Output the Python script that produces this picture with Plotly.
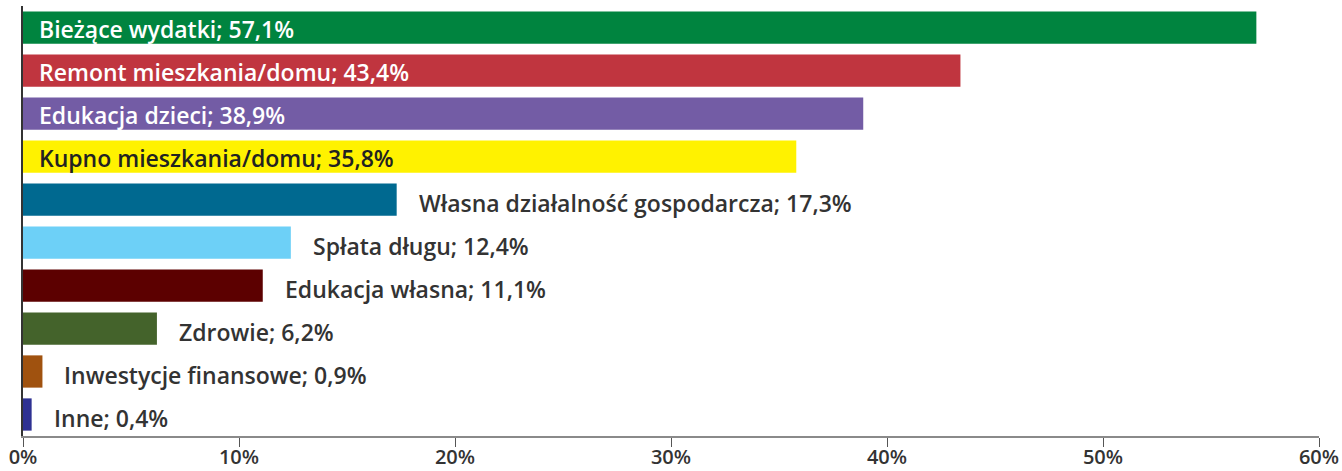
import plotly.graph_objects as go

categories = [
    "Bieżące wydatki", "Remont mieszkania/domu", "Edukacja dzieci",
    "Kupno mieszkania/domu", "Własna działalność gospodarcza", "Spłata długu",
    "Edukacja własna", "Zdrowie", "Inwestycje finansowe", "Inne",
]
values = [57.1, 43.4, 38.9, 35.8, 17.3, 12.4, 11.1, 6.2, 0.9, 0.4]
colors = [
    "#00843F", "#C0353F", "#735CA5", "#FFF200", "#006990",
    "#6DD0F7", "#5C0000", "#44632B", "#A0520F", "#2E3192",
]
inside = [True, True, True, True, False, False, False, False, False, False]
text_colors = ["white", "white", "white", "#222222"] + ["#333333"] * 6

FONT = "Open Sans"

fig = go.Figure()
fig.add_trace(go.Bar(
    x=values,
    y=categories,
    orientation="h",
    marker=dict(color=colors, line=dict(width=0)),
    width=0.75,
    hoverinfo="skip",
))

# Labels: inside the bar for the large ones, to the right for the rest
for cat, val, ins, tc in zip(categories, values, inside, text_colors):
    label = f"{cat}; {val:.1f}%".replace(".", ",")
    fig.add_annotation(
        x=0 if ins else val,
        y=cat,
        text=label,
        showarrow=False,
        xanchor="left",
        xshift=14 if ins else 20,
        yshift=-1 if ins else -3,
        font=dict(family=FONT, size=23, color=tc, weight=600),
    )

fig.update_layout(
    width=1342,
    height=471,
    margin=dict(l=23, r=23, t=6, b=35, autoexpand=False),
    paper_bgcolor="white",
    plot_bgcolor="white",
    showlegend=False,
    xaxis=dict(
        range=[0, 60],
        tickvals=[0, 10, 20, 30, 40, 50, 60],
        ticktext=["0%", "10%", "20%", "30%", "40%", "50%", "60%"],
        showgrid=False,
        zeroline=False,
        showline=True,
        linecolor="#8a8a8a",
        linewidth=2,
        ticks="outside",
        ticklen=9,
        tickcolor="#555555",
        tickwidth=1,
        ticklabelstandoff=-7,
        tickfont=dict(family=FONT, size=20, color="#333333", weight=600),
        automargin=False,
        fixedrange=True,
    ),
    yaxis=dict(
        autorange="reversed",
        showticklabels=False,
        showgrid=False,
        zeroline=False,
        showline=True,
        linecolor="#333333",
        linewidth=2,
        ticks="",
        automargin=False,
        fixedrange=True,
    ),
)

# page body has a default 8px margin; drop it so the figure fills the window
fig.write_html(
    "out.html",
    config={"displayModeBar": False},
    post_script="document.body.style.margin='0';",
)
